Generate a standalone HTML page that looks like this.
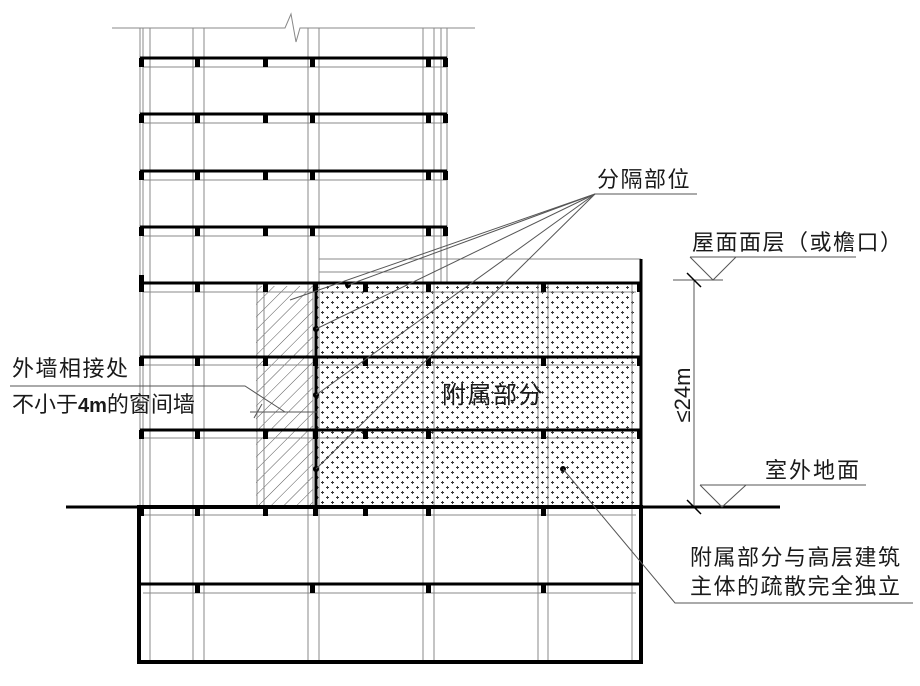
<!DOCTYPE html>
<html><head><meta charset="utf-8"><style>
html,body{margin:0;padding:0;background:#fff;}
svg{display:block;}
text{font-family:"Liberation Sans","Noto Sans CJK SC",sans-serif;fill:#1a1a1a;}
</style></head><body>
<svg width="920" height="686" viewBox="0 0 920 686" xmlns="http://www.w3.org/2000/svg">
<defs>
<pattern id="dots" width="10" height="10" patternUnits="userSpaceOnUse">
<path d="M2.5 1v3M1 2.5h3M7.5 6v3M6 7.5h3" stroke="#333" stroke-width="0.9"/>
</pattern>
<pattern id="hatch" width="9" height="9" patternUnits="userSpaceOnUse" patternTransform="rotate(45)">
<line x1="0" y1="0" x2="0" y2="9" stroke="#444" stroke-width="0.9"/>
</pattern>
</defs>

<rect x="316" y="286" width="320" height="219" fill="url(#dots)"/>
<rect x="256" y="286" width="57" height="219" fill="url(#hatch)"/>

<polyline points="112,28 285,28 291,14 296,42 300,28 475,28" fill="none" stroke="#888" stroke-width="1"/>

<g stroke="#888" stroke-width="1" fill="none">
<line x1="140" y1="28" x2="140" y2="662"/>
<line x1="143" y1="28" x2="143" y2="507"/>
<line x1="150" y1="28" x2="150" y2="662"/>
<line x1="193" y1="28" x2="193" y2="662"/>
<line x1="204" y1="28" x2="204" y2="662"/>
<line x1="308" y1="28" x2="308" y2="662"/>
<line x1="319" y1="28" x2="319" y2="662"/>
<line x1="423" y1="28" x2="423" y2="662"/>
<line x1="434" y1="28" x2="434" y2="662"/>
<line x1="441" y1="28" x2="441" y2="283"/>
<line x1="447" y1="28" x2="447" y2="283"/>
<line x1="538" y1="283" x2="538" y2="662"/>
<line x1="548" y1="283" x2="548" y2="662"/>
<line x1="632" y1="283" x2="632" y2="662"/>
<line x1="257" y1="283" x2="257" y2="507"/>
<line x1="264" y1="283" x2="264" y2="507"/>
<line x1="313" y1="283" x2="313" y2="507"/>
<line x1="143" y1="67" x2="447" y2="67"/>
<line x1="143" y1="123" x2="447" y2="123"/>
<line x1="143" y1="180" x2="447" y2="180"/>
<line x1="143" y1="236" x2="447" y2="236"/>
<line x1="319" y1="272" x2="423" y2="272"/>
<line x1="143" y1="292" x2="636" y2="292"/>
<line x1="143" y1="365" x2="636" y2="365"/>
<line x1="143" y1="438" x2="636" y2="438"/>
<line x1="143" y1="515" x2="636" y2="515"/>
<line x1="143" y1="593" x2="636" y2="593"/>
<line x1="319" y1="259" x2="641" y2="259"/>
</g>

<g stroke="#000" stroke-width="3">
<line x1="140" y1="58" x2="447" y2="58"/>
<line x1="140" y1="114" x2="447" y2="114"/>
<line x1="140" y1="171" x2="447" y2="171"/>
<line x1="140" y1="227" x2="447" y2="227"/>
<line x1="140" y1="283" x2="641" y2="283"/>
<line x1="140" y1="357" x2="641" y2="357"/>
<line x1="140" y1="430" x2="641" y2="430"/>
<line x1="66" y1="507" x2="780" y2="507"/>
<line x1="138" y1="584" x2="641" y2="584"/>
<line x1="641" y1="259" x2="641" y2="507"/>
<line x1="316" y1="283" x2="316" y2="507"/>
</g>
<rect x="139" y="507" width="502" height="155" fill="none" stroke="#000" stroke-width="4"/>

<g fill="#000">
<rect x="139" y="58" width="5" height="9"/><rect x="195" y="58" width="5" height="9"/><rect x="263" y="58" width="5" height="9"/><rect x="310" y="58" width="5" height="9"/><rect x="426" y="58" width="5" height="9"/><rect x="443" y="58" width="5" height="9"/>
<rect x="139" y="114" width="5" height="9"/><rect x="195" y="114" width="5" height="9"/><rect x="263" y="114" width="5" height="9"/><rect x="310" y="114" width="5" height="9"/><rect x="426" y="114" width="5" height="9"/><rect x="443" y="114" width="5" height="9"/>
<rect x="139" y="171" width="5" height="9"/><rect x="195" y="171" width="5" height="9"/><rect x="263" y="171" width="5" height="9"/><rect x="310" y="171" width="5" height="9"/><rect x="426" y="171" width="5" height="9"/><rect x="443" y="171" width="5" height="9"/>
<rect x="139" y="227" width="5" height="9"/><rect x="195" y="227" width="5" height="9"/><rect x="263" y="227" width="5" height="9"/><rect x="310" y="227" width="5" height="9"/><rect x="426" y="227" width="5" height="9"/><rect x="443" y="227" width="5" height="9"/>
<rect x="139" y="275" width="5" height="17"/>
<g id="pb">
<rect x="139" y="283" width="5" height="9"/><rect x="195" y="283" width="5" height="9"/><rect x="263" y="283" width="5" height="9"/><rect x="313" y="283" width="5" height="9"/><rect x="363" y="283" width="5" height="9"/><rect x="426" y="283" width="5" height="9"/><rect x="541" y="283" width="5" height="9"/><rect x="637" y="283" width="5" height="9"/>
</g>
<use href="#pb" y="74"/><use href="#pb" y="147"/>
<rect x="139" y="507" width="5" height="9"/><rect x="195" y="507" width="5" height="9"/><rect x="263" y="507" width="5" height="9"/><rect x="313" y="507" width="5" height="9"/><rect x="363" y="507" width="5" height="9"/><rect x="426" y="507" width="5" height="9"/><rect x="541" y="507" width="5" height="9"/>
<rect x="195" y="584" width="5" height="9"/><rect x="310" y="584" width="5" height="9"/><rect x="426" y="584" width="5" height="9"/><rect x="541" y="584" width="5" height="9"/>
<circle cx="348" cy="285" r="3"/><circle cx="316" cy="329" r="3"/><circle cx="316" cy="395" r="3"/><circle cx="316" cy="469" r="3"/><circle cx="563" cy="469" r="3"/>
</g>

<g stroke="#555" stroke-width="1" fill="none">
<line x1="595" y1="194" x2="697" y2="194"/>
<line x1="595" y1="194" x2="348" y2="285"/>
<line x1="595" y1="194" x2="316" y2="329"/>
<line x1="595" y1="194" x2="316" y2="395"/>
<line x1="595" y1="194" x2="316" y2="469"/>
<line x1="595" y1="194" x2="290" y2="300"/>
<polyline points="10,386 245,386 285,412"/>
<line x1="250" y1="412" x2="318" y2="412"/>
<line x1="254" y1="418" x2="262" y2="404"/>
<polyline points="563,469 675,603 913,603"/>
<line x1="690" y1="257" x2="856" y2="257"/>
<polyline points="690,257 713,280 736,257"/>
<line x1="673" y1="280" x2="723" y2="280"/>
<line x1="700" y1="485" x2="866" y2="485"/>
<polyline points="700,485 722,507 746,485"/>
<line x1="694" y1="280" x2="694" y2="507"/>
</g>
<g stroke="#000" stroke-width="1.5">
<line x1="687" y1="273" x2="701" y2="287"/>
<line x1="687" y1="500" x2="701" y2="514"/>
</g>

<g font-size="22">
<text x="597" y="187" letter-spacing="1.5">分隔部位</text>
<text x="692" y="250" letter-spacing="1.5">屋面面层（或檐口）</text>
<text x="765" y="478" letter-spacing="2">室外地面</text>
<text x="12" y="376" letter-spacing="1.5">外墙相接处</text>
<text x="12" y="412">不小于<tspan font-weight="bold" font-size="20">4m</tspan>的窗间墙</text>
<text x="442" y="403" font-size="24" letter-spacing="1.5">附属部分</text>
<text x="690" y="565" letter-spacing="1.5">附属部分与高层建筑</text>
<text x="690" y="594" letter-spacing="1.5">主体的疏散完全独立</text>
<text transform="translate(690,395) rotate(-90)" text-anchor="middle" font-size="22">≤24m</text>
</g>
</svg>
</body></html>
